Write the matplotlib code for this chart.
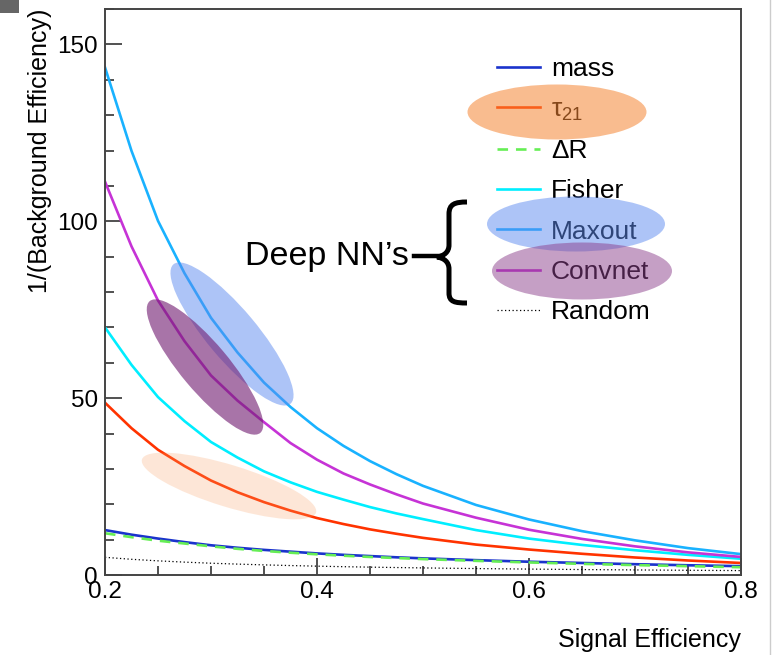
import matplotlib
matplotlib.use('Agg')
import matplotlib.pyplot as plt
from matplotlib.patches import Ellipse, Rectangle, PathPatch
from matplotlib.path import Path
from matplotlib.transforms import IdentityTransform
from matplotlib.lines import Line2D
from matplotlib.ticker import MultipleLocator

plt.rcParams['font.family'] = ['Liberation Sans', 'DejaVu Sans']
plt.rcParams['mathtext.fontset'] = 'custom'
plt.rcParams['mathtext.rm'] = 'Liberation Sans'
plt.rcParams['mathtext.it'] = 'Liberation Sans:italic'

# ---------------- data ----------------
sig_eff = [0.2, 0.225, 0.25, 0.275, 0.3, 0.325, 0.35, 0.375, 0.4, 0.425, 0.45, 0.475,
           0.5, 0.55, 0.6, 0.65, 0.7, 0.75, 0.8]
mass    = [12.7, 11.4, 10.3, 9.3, 8.4, 7.7, 7.1, 6.6, 6.1, 5.7, 5.35, 5.0,
           4.7, 4.2, 3.75, 3.4, 3.05, 2.75, 2.5]
tau21   = [48.7, 41.5, 35.4, 30.8, 26.7, 23.4, 20.6, 18.2, 16.1, 14.4, 12.9, 11.65,
           10.5, 8.6, 7.2, 6.0, 4.95, 4.1, 3.4]
deltaR  = [11.8, 10.7, 9.7, 8.9, 8.1, 7.4, 6.8, 6.3, 5.85, 5.45, 5.1, 4.8,
           4.5, 4.0, 3.55, 3.15, 2.8, 2.5, 2.2]
fisher  = [70.0, 59.4, 50.3, 43.5, 37.6, 33.2, 29.3, 26.2, 23.5, 21.3, 19.2, 17.4,
           15.8, 12.7, 10.3, 8.5, 7.0, 5.7, 4.6]
maxout  = [143.5, 119.9, 100.1, 85.3, 72.7, 62.9, 54.4, 47.5, 41.5, 36.5, 32.2, 28.5,
           25.2, 19.8, 15.7, 12.4, 9.8, 7.6, 5.9]
convnet = [111.2, 92.9, 77.6, 66.1, 56.4, 49.3, 43.2, 37.3, 32.6, 28.7, 25.6, 22.8,
           20.2, 16.2, 12.8, 10.2, 8.1, 6.4, 5.1]
random_ = [5.0, 4.44, 4.0, 3.64, 3.33, 3.08, 2.86, 2.67, 2.5, 2.35, 2.22, 2.11,
           2.0, 1.82, 1.67, 1.54, 1.43, 1.33, 1.25]

labels = ['mass', 'τ$_{21}$', 'ΔR', 'Fisher', 'Maxout', 'Convnet', 'Random']
xlabel = 'Signal Efficiency'
ylabel = '1/(Background Efficiency)'
group_label = 'Deep NN\u2019s'

W, H = 775, 655
fig = plt.figure(figsize=(W / 100, H / 100), dpi=100)
ax = fig.add_axes([105 / W, 80 / H, 636 / W, 566 / H])

lw = 1.9
l_mass, = ax.plot(sig_eff, mass, color='#1a33cc', lw=lw)
l_tau, = ax.plot(sig_eff, tau21, color='#ff3300', lw=lw)
l_dr, = ax.plot(sig_eff, deltaR, color='#66ee55', lw=lw, ls=(0, (4, 3)))
l_fis, = ax.plot(sig_eff, fisher, color='#00eeff', lw=lw)
l_max, = ax.plot(sig_eff, maxout, color='#19b2ff', lw=lw)
l_conv, = ax.plot(sig_eff, convnet, color='#c633d6', lw=lw)
l_rand, = ax.plot(sig_eff, random_, color='black', lw=0.9, ls=(0, (1, 2)))

ax.set_xlim(0.2, 0.8)
ax.set_ylim(0, 160)
ax.xaxis.set_major_locator(MultipleLocator(0.2))
ax.xaxis.set_minor_locator(MultipleLocator(0.05))
ax.yaxis.set_major_locator(MultipleLocator(50))
ax.yaxis.set_minor_locator(MultipleLocator(10))
ax.tick_params(which='both', direction='in', colors='#333333', labelcolor='black',
               labelsize=17.5, width=1.2)
ax.tick_params(which='major', length=12.5)
ax.tick_params(which='minor', length=6.5)
ax.tick_params(axis='x', pad=4)
ax.tick_params(axis='y', pad=5)
for s in ax.spines.values():
    s.set_color('#444444')
    s.set_linewidth(1.4)

ax.set_xlabel(xlabel, fontsize=18, loc='right', labelpad=18)
ax.set_ylabel(ylabel, fontsize=18, loc='top', labelpad=4)

leg = ax.legend([l_mass, l_tau, l_dr, l_fis, l_max, l_conv, l_rand], labels,
                loc='upper left', bbox_to_anchor=(497, H - 57),
                bbox_transform=IdentityTransform(), frameon=False,
                fontsize=19, handlelength=1.63, handletextpad=0.42,
                labelspacing=0.62, borderpad=0, borderaxespad=0)

ident = IdentityTransform()

def pix_ellipse(cx, cy, w, h, angle, color, alpha):
    e = Ellipse((cx, H - cy), w, h, angle=angle, transform=ident,
                facecolor=color, edgecolor='none', alpha=alpha, zorder=10)
    fig.add_artist(e)

# ellipses in plot
pix_ellipse(232, 334, 182, 50, -50, (0.36, 0.54, 0.94), 0.5)
pix_ellipse(205, 367, 172, 48, -50, (0.45, 0.12, 0.45), 0.62)
pix_ellipse(229, 486, 182, 42, -17, (0.98, 0.62, 0.38), 0.25)
# ellipses in legend
pix_ellipse(557, 112, 179, 55, 0, (0.96, 0.52, 0.2), 0.55)
pix_ellipse(576, 224, 178, 55, 0, (0.36, 0.54, 0.94), 0.5)
pix_ellipse(582, 271, 180, 57, 0, (0.55, 0.25, 0.55), 0.5)

# "Deep NN's" brace
fig.text(245 / W, (H - 257) / H, group_label, fontsize=24.5, ha='left', va='center')
bx = 449
verts = [(467, 202), (455, 202), (bx, 204), (bx, 214),
         (bx, 245),
         (bx, 252), (444, 256), (437, 257),
         (444, 258), (bx, 262), (bx, 269),
         (bx, 293),
         (bx, 302), (455, 303), (467, 303)]
codes = [Path.MOVETO, Path.CURVE4, Path.CURVE4, Path.CURVE4,
         Path.LINETO,
         Path.CURVE4, Path.CURVE4, Path.CURVE4,
         Path.CURVE4, Path.CURVE4, Path.CURVE4,
         Path.LINETO,
         Path.CURVE4, Path.CURVE4, Path.CURVE4]
path = Path([(x, H - y) for x, y in verts], codes)
fig.add_artist(PathPatch(path, transform=ident, facecolor='none',
                         edgecolor='black', lw=3.6, capstyle='butt', zorder=11))
fig.add_artist(Line2D([414, 440], [H - 256, H - 256], transform=ident,
                      color='black', lw=3.2, zorder=11))

# image frame details
fig.add_artist(Line2D([770, 770], [0, H], transform=ident, color='#cccccc', lw=1))
fig.add_artist(Rectangle((0, H - 13), 19, 13, transform=ident,
                         facecolor='#666666', edgecolor='none'))

fig.savefig('out.png', dpi=100)
